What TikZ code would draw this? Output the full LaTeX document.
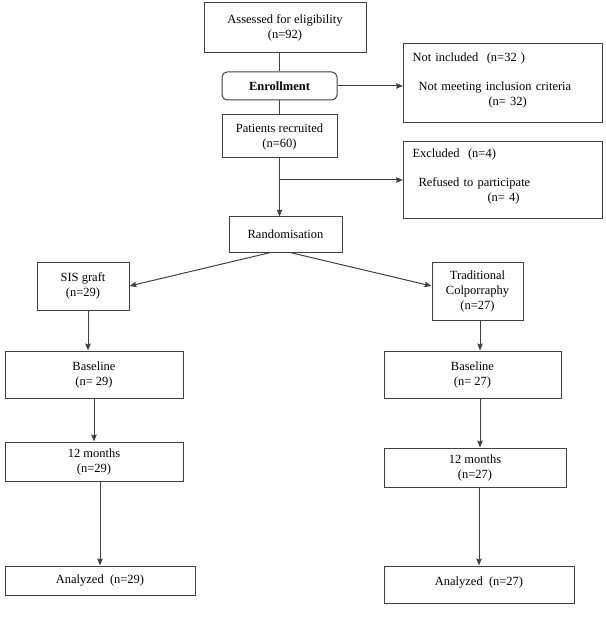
\documentclass[tikz,border=0pt]{standalone}
\usepackage{fontspec}
\setmainfont{Liberation Serif}
\usetikzlibrary{arrows.meta, positioning}
\tikzstyle{box} = [rectangle, draw=black!75, line width=1pt, align=center, inner sep=0pt, font=\fontsize{12.5}{15}\selectfont]
\tikzstyle{roundbox} = [box, rounded corners=5pt, font=\fontsize{12.5}{15}\selectfont\bfseries]
\tikzstyle{sidebox} = [box, align=left, anchor=north west, text width=181pt, inner xsep=9pt, inner ysep=5pt]
\tikzstyle{arrow} = [draw=black!75, line width=1pt, -{Stealth[length=7pt, width=5.5pt, inset=1pt]}]

\begin{document}
\begin{tikzpicture}[x=1pt, y=-1pt]
\useasboundingbox (0,0) rectangle (605,617);

% Screening
\node (assessed) [box, minimum width=162, minimum height=50] at (285,28) {Assessed for eligibility\\(n=92)};

\node (enrol) [roundbox, minimum width=115, minimum height=28] at (279.5,86) {Enrollment};

\node (notinc) [sidebox, text height=13pt, text depth=56pt] at (403,43) {Not included\ \ (n=32 )\\[14pt]\hspace*{6pt}Not meeting inclusion criteria\\\hspace*{76pt}(n= 32)};

\node (patients) [box, minimum width=115, minimum height=43] at (279.5,136.5) {Patients recruited\\(n=60)};

\node (excluded) [sidebox, text height=11pt, text depth=56pt] at (403,141) {Excluded\ \ (n=4)\\[14pt]\hspace*{6pt}Refused to participate\\\hspace*{75pt}(n= 4)};

\node (random) [box, minimum width=113, minimum height=35] at (285.5,234.5) {Randomisation};

% Arms
\node (sis) [box, minimum width=92, minimum height=48] at (83,286) {SIS graft\\(n=29)};
\node (trad) [box, minimum width=91, minimum height=58] at (477.5,291) {Traditional\\Colporraphy\\(n=27)};

% Follow-up
\node (base-sis) [box, minimum width=178, minimum height=47] at (94,374.5) {Baseline\\(n= 29)};
\node (base-trad) [box, minimum width=177, minimum height=47] at (472.5,374.5) {Baseline\\(n= 27)};

\node (month-sis) [box, minimum width=178, minimum height=39] at (94,461.5) {12 months\\(n=29)};
\node (month-trad) [box, minimum width=182, minimum height=39] at (475,467.5) {12 months\\(n=27)};

% Analysis
\node (ana-sis) [box, minimum width=190, minimum height=29] at (100,580.5) {Analyzed\ \ (n=29)};
\node (ana-trad) [box, minimum width=190, minimum height=37, text height=13pt, text depth=12pt] at (479,584.5) {Analyzed\ \ (n=27)};

% Arrows
\draw [draw=black!75, line width=1pt] (assessed.south -| enrol.north) -- (enrol.north);
\draw [draw=black!75, line width=1pt] (enrol.south) -- (patients.north);
\draw [arrow] (enrol.east) -- (enrol.east -| notinc.west);
\draw [arrow] (patients.south) -- (patients.south |- random.north);
\coordinate (branch) at (patients.south |- excluded.west);
\draw [arrow] (branch) -- (excluded.west);
\draw [arrow] ([xshift=-15pt]random.south) -- (sis.east);
\draw [arrow] ([xshift=4.5pt]random.south) -- ([yshift=5pt]trad.west);
\draw [arrow] ([xshift=5pt]sis.south) -- ([xshift=5pt]sis.south |- base-sis.north);
\draw [arrow] ([xshift=2.5pt]trad.south) -- ([xshift=2.5pt]trad.south |- base-trad.north);
\draw [arrow] (base-sis.south) -- (month-sis.north);
\draw [arrow] ([xshift=7.5pt]base-trad.south) -- ([xshift=7.5pt]base-trad.south |- month-trad.north);
\draw [arrow] (ana-sis.north |- month-sis.south) -- (ana-sis.north);
\draw [arrow] (ana-trad.north |- month-trad.south) -- (ana-trad.north);

\end{tikzpicture}
\end{document}
